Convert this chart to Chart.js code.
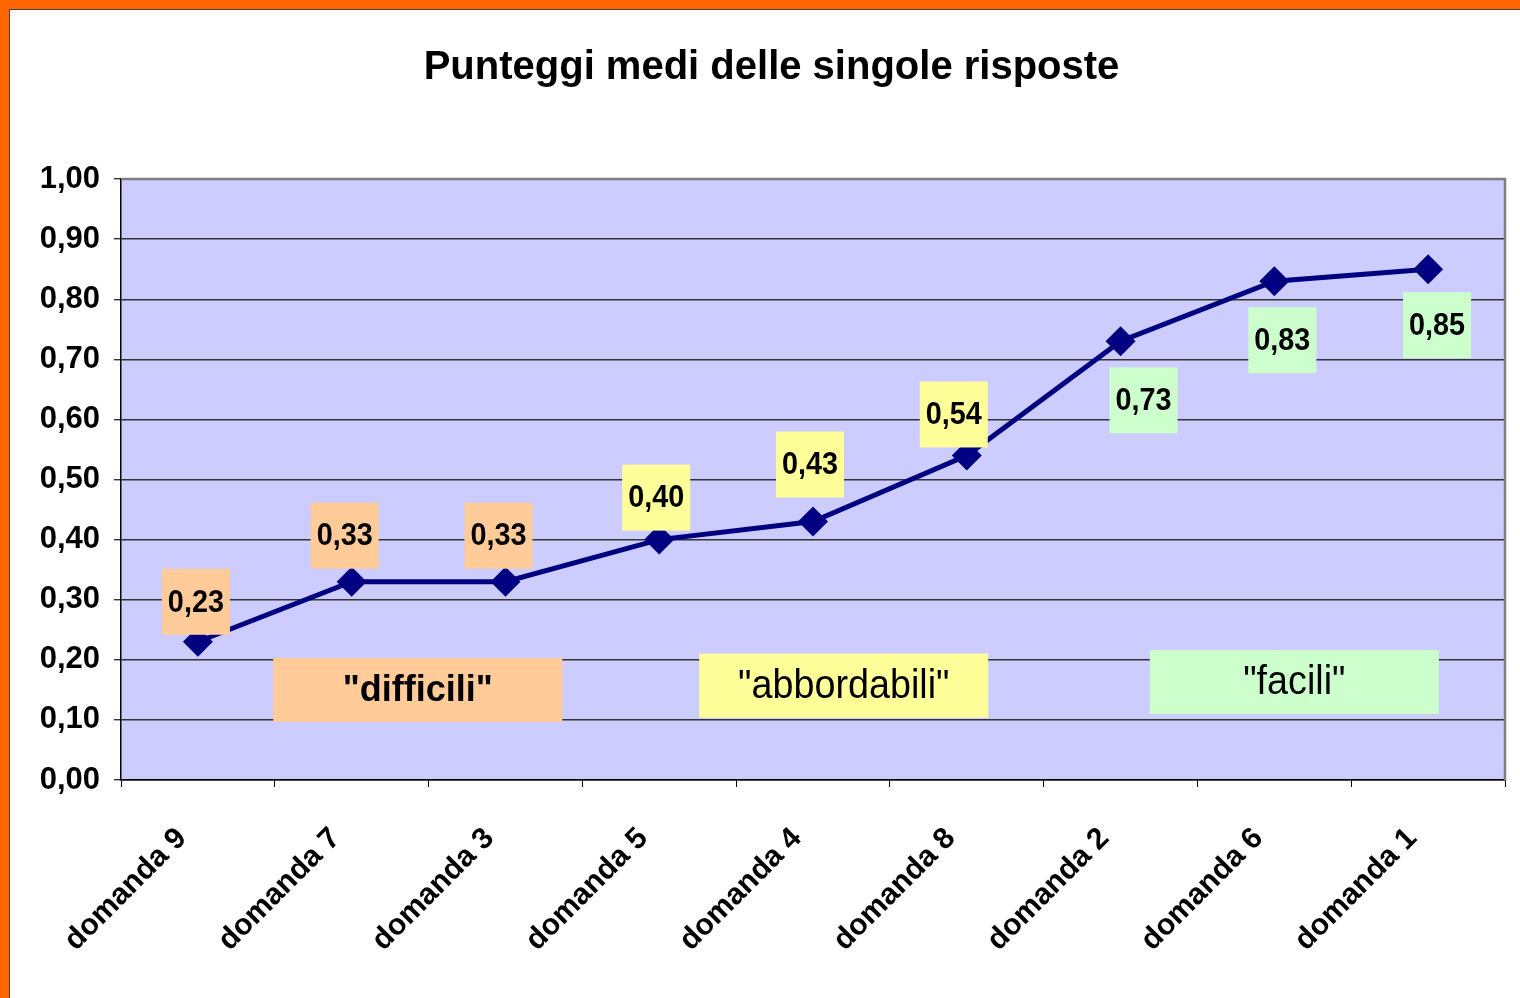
<!DOCTYPE html>
<html>
<head>
<meta charset="utf-8">
<script src="https://cdn.jsdelivr.net/npm/chart.js@4.4.1/dist/chart.umd.min.js"></script>
<style>
  html, body { margin: 0; padding: 0; }
  body { width: 1520px; height: 998px; background: #FF6600; overflow: hidden; position: relative; }
  #frame { position: absolute; left: 9px; top: 9px; width: 1530px; height: 1000px; background: #fff; border-left: 1px solid #444; border-top: 1px solid #444; }
  #punteggi { position: absolute; left: 0; top: 0; }
</style>
</head>
<body>
<div id="frame"></div>
<canvas id="punteggi" width="1520" height="998"></canvas>
<script>
/** PUNTEGGI MEDI LINE CHART **/

var domande = ["domanda 9", "domanda 7", "domanda 3", "domanda 5", "domanda 4", "domanda 8", "domanda 2", "domanda 6", "domanda 1"];
var punteggi = [0.23, 0.33, 0.33, 0.40, 0.43, 0.54, 0.73, 0.83, 0.85];
var fasce = ["difficili", "difficili", "difficili", "abbordabili", "abbordabili", "abbordabili", "facili", "facili", "facili"];

// category boxes: label, centre (category index, value)
var fasciaNomi = ['"difficili"', '"abbordabili"', '"facili"'];
var fasciaX = [1.43, 4.2, 7.13];
var fasciaY = [0.15, 0.157, 0.163];

var yMin = 0, yMax = 1, yStep = 0.1;

// data label offsets from the marker (px), as placed by hand in the original
var etichettaDx = [-2, -7, -7, -3, -3, -13, 23, 8, 9];
var etichettaDy = [-40, -46, -46, -42, -57, -41, 59, 59, 56];

var coloriFascia = {
    difficili: '#FFCC99',
    abbordabili: '#FFFF99',
    facili: '#CCFFCC'
};
var fasciaKey = ['difficili', 'abbordabili', 'facili'];

var FONT = '"Liberation Sans", Arial, sans-serif';

function virgola(v) {
    return Number(v).toFixed(2).replace('.', ',');
}

var plotArea = {
    id: 'plotArea',
    beforeDraw: function (chart) {
        var a = chart.chartArea, ctx = chart.ctx;
        ctx.save();
        ctx.fillStyle = '#CCCCFF';
        ctx.fillRect(a.left, a.top, a.right - a.left, a.bottom - a.top);
        ctx.restore();
    },
    beforeDatasetsDraw: function (chart) {
        var a = chart.chartArea, ctx = chart.ctx;
        var xs = chart.scales.x, ys = chart.scales.y;
        ctx.save();
        ctx.strokeStyle = '#808080';
        ctx.lineWidth = 2.5;
        ctx.beginPath();
        ctx.moveTo(a.left, a.top);
        ctx.lineTo(a.right, a.top);
        ctx.lineTo(a.right, a.bottom);
        ctx.stroke();

        // fascia boxes
        for (var i = 0; i < fasciaNomi.length; i++) {
            var cx = xs.getPixelForValue(fasciaX[i]);
            var cy = ys.getPixelForValue(fasciaY[i]);
            var w = 289, h = 64;
            ctx.fillStyle = coloriFascia[fasciaKey[i]];
            ctx.fillRect(cx - w / 2, cy - h / 2, w, h);
            ctx.fillStyle = '#000';
            ctx.textAlign = 'center';
            ctx.textBaseline = 'middle';
            ctx.save();
            ctx.translate(cx, cy + 1);
            if (i === 0) {
                ctx.font = 'bold 36px ' + FONT;
            } else {
                ctx.font = '41px ' + FONT;
                ctx.scale(0.92, 1);
            }
            ctx.fillText(fasciaNomi[i], 0, 0);
            ctx.restore();
        }
        ctx.restore();
    },
    afterDatasetsDraw: function (chart) {
        var ctx = chart.ctx;
        var meta = chart.getDatasetMeta(0);
        ctx.save();
        ctx.font = 'bold 32px ' + FONT;
        ctx.textAlign = 'center';
        ctx.textBaseline = 'middle';
        meta.data.forEach(function (pt, i) {
            var cx = pt.x + etichettaDx[i];
            var cy = pt.y + etichettaDy[i];
            ctx.fillStyle = coloriFascia[fasce[i]];
            ctx.fillRect(cx - 34, cy - 33, 68, 66);
            ctx.fillStyle = '#000';
            ctx.save();
            ctx.translate(cx, cy + 1);
            ctx.scale(0.9, 1);
            ctx.fillText(virgola(punteggi[i]), 0, 0);
            ctx.restore();
        });
        ctx.restore();
    }
};

var ctx = document.getElementById("punteggi");

var punteggiChart = new Chart(ctx, {
    type: 'line',
    data: {
        labels: domande,
        datasets: [{
            label: 'Punteggi medi',
            data: punteggi,
            borderColor: '#000080',
            backgroundColor: '#000080',
            borderWidth: 5,
            pointStyle: 'rectRot',
            pointRadius: 15,
            pointHoverRadius: 15,
            pointBorderWidth: 0,
            tension: 0
        }]
    },
    options: {
        responsive: false,
        animation: false,
        layout: {
            padding: { left: 35, right: 12, top: 0, bottom: 0 }
        },
        plugins: {
            legend: { display: false },
            tooltip: { enabled: false },
            title: {
                display: true,
                text: 'Punteggi medi delle singole risposte',
                color: '#000',
                font: { family: FONT, size: 40, weight: 'bold' },
                padding: { top: 44, bottom: 87 }
            }
        },
        scales: {
            x: {
                offset: true,
                grid: {
                    offset: true,
                    drawOnChartArea: false,
                    tickLength: 7,
                    color: '#000'
                },
                border: { color: '#000', width: 1.5 },
                ticks: {
                    color: '#000',
                    minRotation: 45,
                    maxRotation: 45,
                    padding: 34,
                    labelOffset: -16,
                    font: { family: FONT, size: 30, weight: 'bold' }
                },
                afterFit: function (scale) { scale.height = 218; }
            },
            y: {
                min: yMin,
                max: yMax,
                grid: {
                    color: '#333',
                    lineWidth: 1.4,
                    tickLength: 7
                },
                border: { color: '#000', width: 1.5 },
                ticks: {
                    stepSize: yStep,
                    color: '#000',
                    padding: 14,
                    font: { family: FONT, size: 31, weight: 'bold' },
                    callback: function (v) { return virgola(v); }
                },
                afterFit: function (scale) { scale.width = 86; }
            }
        }
    },
    plugins: [plotArea]
});
</script>
</body>
</html>
